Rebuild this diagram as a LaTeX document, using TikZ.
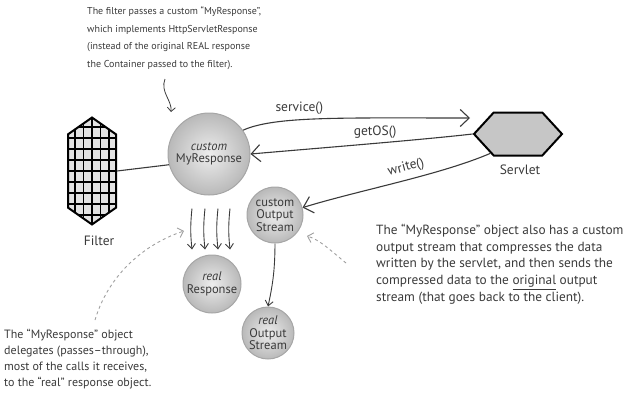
\documentclass[tikz,border=0pt]{standalone}
\usepackage{fontspec}
\setmainfont{PT Sans}
\usepackage{tikz}
\usetikzlibrary{positioning,%
  arrows.meta,%
  shapes.symbols,%
  calc
}
\definecolor{pen}{HTML}{3A3A3A}
\tikzset{
  obj/.style={circle, draw=gray!70, line width=1pt, shading=radial,
    inner color=gray!14, outer color=gray!55, align=center, inner sep=0pt,
    font=\fontsize{12.5}{12.5}\selectfont, text=pen},
  call/.style={draw=pen, line width=1.1pt, -{Straight Barb[length=9pt,width=17pt]}},
  pass/.style={draw=pen, line width=0.9pt, -{Straight Barb[length=5pt,width=8pt]}},
  hint/.style={draw=gray!75, dashed, line width=0.9pt, -{Straight Barb[length=5pt,width=10pt]}},
  note/.style={anchor=north west, align=left, inner sep=0pt, text=pen},
  lbl/.style={font=\fontsize{13.5}{14}\selectfont, text=pen},
  gridbox/.style={signal, signal to=north and south, signal pointer angle=110,
    draw=black, line width=2pt, fill=gray!22, minimum width=48pt, minimum height=78pt,
    path picture={
      \foreach \dx in {-17,-8.5,0,8.5,17}
        \draw[black, line width=1.3pt] ([xshift=\dx pt]path picture bounding box.north)
          -- ([xshift=\dx pt]path picture bounding box.south);
      \foreach \dy in {-44,-33,...,44}
        \draw[black, line width=1.3pt] ([yshift=\dy pt]path picture bounding box.west)
          -- ([yshift=\dy pt]path picture bounding box.east);
    }},
  hexbox/.style={signal, signal to=west and east, signal pointer angle=95,
    draw=black, line width=2pt, fill=gray!45, minimum width=88pt, minimum height=43pt}
}
\begin{document}
\begin{tikzpicture}[x=1pt,y=-1pt]
                    \useasboundingbox (0,0) rectangle (626,399);
                    \node[note, font=\fontsize{10}{17.5}\selectfont] (topnote) at (87,7)
                      {The filter passes a custom ``MyResponse'',\\
                       which implements HttpServletResponse\\
                       (instead of the original REAL response\\
                       the Container passed to the filter).};
                    \node[gridbox] (filter) at (92,171) {};
                    \node[lbl] (filterlbl) at (99,241) {Filter};
                    \node[hexbox] (servlet) at (518,134) {};
                    \node[lbl] (servletlbl) at (520,170) {Servlet};
                    \node[obj, minimum size=82pt] (resp) at (209,154) {\textit{custom}\\MyResponse};
                    \node[obj, minimum size=56pt] (cos) at (275,215) {custom\\Output\\Stream};
                    \node[obj, minimum size=58pt] (realresp) at (212,284) {\textit{real}\\Response};
                    \node[obj, minimum size=52pt] (ros) at (268,333) {\textit{real}\\Output\\Stream};
                    \node[note, font=\fontsize{12}{16}\selectfont] (leftnote) at (4,329)
                      {The ``MyResponse'' object\\
                       delegates (passes--through),\\
                       most of the calls it receives,\\
                       to the ``real'' response object.};
                    \node[note, font=\fontsize{13.3}{16.7}\selectfont] (rightnote) at (376,224)
                      {The ``MyResponse'' object also has a custom\\
                       output stream that compresses the data\\
                       written by the servlet, and then sends the\\
                       compressed data to the \underline{original} output\\
                       stream (that goes back to the client).};
                    \coordinate (topfrom) at (165,79);
                    \coordinate (topto) at (171,112);
                    \coordinate (servin) at (470,118);
                    \coordinate (leftfrom) at (95,320);
                    \coordinate (leftto) at (184,231);
                    \coordinate (rightfrom) at (346,263);
                    \coordinate (rightto) at (307,236);
                    \draw[pen, line width=1.1pt] (filter.east) -- (resp.195);
                    \draw[call] (resp.35) .. controls (275,116) and (340,118) .. (servin)
                      node[pos=0.4, above=1pt, lbl] (servicelbl) {service()};
                    \draw[call] (servlet.west) .. controls (420,140) and (320,148) .. (resp.east)
                      node[pos=0.47, above=1pt, lbl] (getoslbl) {getOS()};
                    \draw[call] (servlet.215) .. controls (440,175) and (360,190) .. (cos.15)
                      node[pos=0.45, above=2pt, sloped, lbl] (writelbl) {write()};
                    \foreach \a/\b in {-17/-20,-4/-7,9/6,21/18}
                      \draw[pass] ([xshift=\a pt, yshift=-13pt]resp.south)
                        to[bend right=6] ([xshift=\b pt, yshift=5pt]realresp.north);
                    \draw[pass] (cos.south) to[bend left=6] (ros.north);
                    \draw[pen, line width=0.8pt, -{Straight Barb[length=4pt,width=8pt]}]
                      (topfrom) .. controls (160,92) and (172,100) .. (topto);
                    \draw[hint] (leftfrom) .. controls (110,270) and (150,242) .. (leftto);
                    \draw[hint] (rightfrom) .. controls (330,250) and (320,240) .. (rightto);
                \end{tikzpicture}
\end{document}
